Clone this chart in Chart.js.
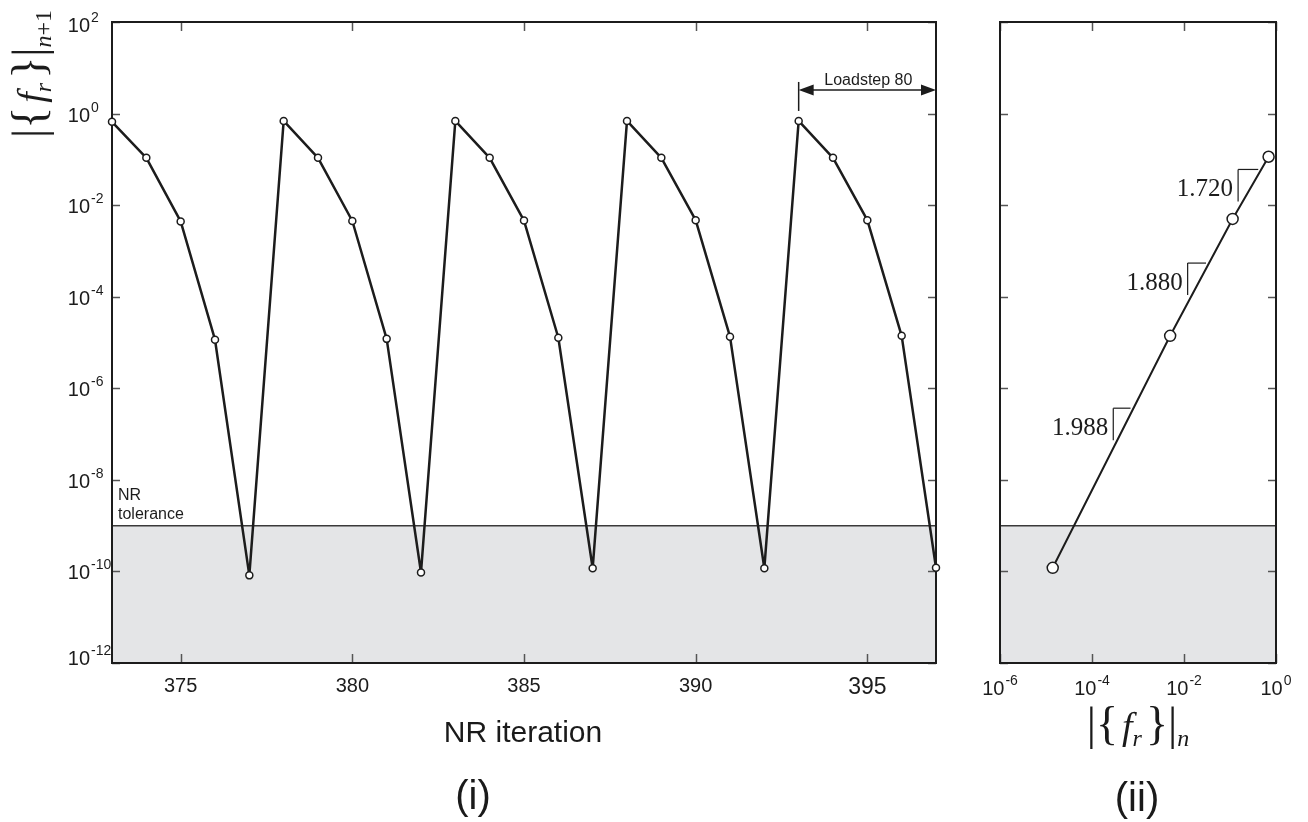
<!DOCTYPE html>
<html>
<head>
<meta charset="utf-8">
<script src="https://cdn.jsdelivr.net/npm/chart.js@4.4.0/dist/chart.umd.min.js"></script>
<style>
  html, body { margin: 0; padding: 0; background: #fff; }
  #wrap { position: relative; width: 1308px; height: 822px; overflow: hidden; }
  canvas { position: absolute; top: 0; }
  #leftChart { left: 0; }
  #rightChart { left: 960px; }
  .lbl {
    position: absolute; white-space: nowrap; color: #1a1a1a;
    font-family: "Liberation Sans", Arial, sans-serif;
    transform: translate(-50%, -50%);
  }
  .math {
    position: absolute; white-space: nowrap; color: #1a1a1a;
    font-family: "Liberation Serif", "DejaVu Serif", serif;
    font-size: 38px; line-height: 1;
  }
  .math .d { font-size: 46px; font-style: normal; }
  .math i { font-style: italic; }
  .math sub { font-size: 24px; vertical-align: -7px; line-height: 0; }
  .math .sp { display: inline-block; width: 4px; }
</style>
</head>
<body>
<div id="wrap">
  <canvas id="leftChart" width="960" height="822"></canvas>
  <canvas id="rightChart" width="348" height="822"></canvas>

  <div class="math" id="yLabel" style="left:29px; top:74px; transform: translate(-50%,-50%) rotate(-90deg);">
    <span class="d">|{</span><span class="sp"></span><i>f</i><sub><i>r</i></sub><span class="sp"></span><span class="d">}|</span><sub><i>n</i>+1</sub>
  </div>
  <div class="math" id="xLabelRight" style="left:1138px; top:724px; transform: translate(-50%,-50%);">
    <span class="d">|{</span><span class="sp"></span><i>f</i><sub><i>r</i></sub><span class="sp"></span><span class="d">}|</span><sub><i>n</i></sub>
  </div>

  <div class="lbl" style="left:523px; top:732px; font-size:30px;">NR iteration</div>
  <div class="lbl" style="left:473px; top:795px; font-size:40px;">(i)</div>
  <div class="lbl" style="left:1137px; top:797px; font-size:40px;">(ii)</div>
</div>

<script>
// Panel (i): residual per NR iteration
const iterations = [373, 374, 375, 376, 377, 378, 379, 380, 381, 382, 383, 384, 385,
                    386, 387, 388, 389, 390, 391, 392, 393, 394, 395, 396, 397];
const residuals = [0.66, 0.108, 4.4e-3, 1.15e-5, 8.2e-11,
                   0.69, 0.108, 4.5e-3, 1.2e-5, 9.5e-11,
                   0.69, 0.108, 4.6e-3, 1.27e-5, 1.17e-10,
                   0.69, 0.108, 4.7e-3, 1.34e-5, 1.17e-10,
                   0.69, 0.108, 4.7e-3, 1.4e-5, 1.2e-10];
const iterationTicks = [375, 380, 385, 390, 395];
const decadeTicks = [1e-12, 1e-10, 1e-8, 1e-6, 1e-4, 1e-2, 1, 1e2];
const tolerance = 1e-9;
const loadstepFrom = 393;
const loadstepTo = 397;
const loadstepText = 'Loadstep 80';

// Panel (ii): residual n+1 against residual n (loadstep 80)
const residualN = [1.4e-5, 5.0e-3, 0.114, 0.69];
const residualN1 = [1.2e-10, 1.4e-5, 5.0e-3, 0.114];
const rateLabels = ['1.988', '1.880', '1.720'];
const rateAnchorX = [2.9e-4, 1.2e-2, 0.15];
const residualNTicks = [1e-6, 1e-4, 1e-2, 1];

const INK = '#1c1c1c';
const TICK_FONT = '"Liberation Sans", Arial, sans-serif';

function line(ctx, x1, y1, x2, y2) {
  ctx.beginPath();
  ctx.moveTo(x1, y1);
  ctx.lineTo(x2, y2);
  ctx.stroke();
}

function exponentOf(v) {
  return String(Math.round(Math.log10(v)));
}

/**
 * Draw "10" with a raised exponent. align: 'right' puts the end of "10" at x,
 * 'center' centres the whole label on x.
 */
function drawPower(ctx, v, x, base, align) {
  const exp = exponentOf(v);
  ctx.font = '20px ' + TICK_FONT;
  const w10 = ctx.measureText('10').width;
  ctx.font = '14px ' + TICK_FONT;
  const wExp = ctx.measureText(exp).width;
  const start = align === 'center' ? x - (w10 + wExp + 1) / 2 : x - w10;
  ctx.textAlign = 'left';
  ctx.textBaseline = 'alphabetic';
  ctx.font = '20px ' + TICK_FONT;
  ctx.fillText('10', start, base);
  ctx.font = '14px ' + TICK_FONT;
  ctx.fillText(exp, start + w10 + 1, base - 10);
}

// Shared: grey converged zone, tolerance line, inward ticks, box
const framePlugin = {
  id: 'frame',
  beforeDatasetsDraw(chart) {
    const { ctx, chartArea: a, scales: { x, y } } = chart;
    const tolY = y.getPixelForValue(tolerance);
    ctx.save();
    ctx.fillStyle = '#e4e5e7';
    ctx.fillRect(a.left, tolY, a.right - a.left, a.bottom - tolY);
    ctx.strokeStyle = '#3a3a3a';
    ctx.lineWidth = 1.5;
    line(ctx, a.left, tolY, a.right, tolY);

    ctx.strokeStyle = '#555';
    ctx.lineWidth = 1.5;
    x.ticks.forEach(t => {
      const px = Math.round(x.getPixelForValue(t.value)) + 0.5;
      line(ctx, px, a.bottom, px, a.bottom - 9);
      line(ctx, px, a.top, px, a.top + 9);
    });
    y.ticks.forEach(t => {
      const py = Math.round(y.getPixelForValue(t.value)) + 0.5;
      line(ctx, a.left, py, a.left + 8, py);
      line(ctx, a.right, py, a.right - 8, py);
    });

    ctx.strokeStyle = INK;
    ctx.lineWidth = 2;
    ctx.strokeRect(a.left, a.top, a.right - a.left, a.bottom - a.top);
    ctx.restore();
  }
};

const leftLabels = {
  id: 'leftLabels',
  afterDraw(chart) {
    const { ctx, chartArea: a, scales: { x, y } } = chart;
    ctx.save();
    ctx.fillStyle = INK;

    // y tick labels
    y.ticks.forEach((t, i) => {
      const py = y.getPixelForValue(t.value);
      let off = 8;
      if (i === 0) off = 2;
      if (i === y.ticks.length - 1) off = 10;
      drawPower(ctx, t.value, a.left - 22, py + off, 'right');
    });

    // x tick labels
    ctx.textAlign = 'center';
    ctx.textBaseline = 'alphabetic';
    x.ticks.forEach(t => {
      const big = t.value === 395;
      ctx.font = (big ? '23px ' : '20px ') + TICK_FONT;
      ctx.fillText(String(t.value), x.getPixelForValue(t.value), a.bottom + (big ? 31 : 29));
    });

    // NR tolerance note
    const tolY = y.getPixelForValue(tolerance);
    ctx.textAlign = 'left';
    ctx.font = '16px ' + TICK_FONT;
    ctx.fillText('NR', a.left + 6, tolY - 26);
    ctx.fillText('tolerance', a.left + 6, tolY - 7);

    // Loadstep span
    const i0 = iterations.indexOf(loadstepFrom);
    const pY = y.getPixelForValue(residuals[i0]);
    const x0 = x.getPixelForValue(loadstepFrom);
    const x1 = x.getPixelForValue(loadstepTo);
    const arrowY = pY - 31;
    ctx.strokeStyle = INK;
    ctx.lineWidth = 1.5;
    line(ctx, x0, pY - 10, x0, pY - 39);
    line(ctx, x0 + 12, arrowY, x1 - 12, arrowY);
    ctx.beginPath();
    ctx.moveTo(x0, arrowY);
    ctx.lineTo(x0 + 15, arrowY - 5.5);
    ctx.lineTo(x0 + 15, arrowY + 5.5);
    ctx.closePath();
    ctx.moveTo(x1, arrowY);
    ctx.lineTo(x1 - 15, arrowY - 5.5);
    ctx.lineTo(x1 - 15, arrowY + 5.5);
    ctx.closePath();
    ctx.fill();
    ctx.textAlign = 'center';
    ctx.font = '16px ' + TICK_FONT;
    ctx.fillText(loadstepText, (x0 + x1) / 2 + 1, pY - 36);
    ctx.restore();
  }
};

const rightLabels = {
  id: 'rightLabels',
  afterDraw(chart) {
    const { ctx, chartArea: a, scales: { x, y } } = chart;
    ctx.save();
    ctx.fillStyle = INK;
    x.ticks.forEach(t => {
      drawPower(ctx, t.value, x.getPixelForValue(t.value), a.bottom + 32, 'center');
    });

    // convergence-rate triangles on each segment
    ctx.strokeStyle = INK;
    ctx.lineWidth = 1.2;
    rateLabels.forEach((label, k) => {
      const ax = x.getPixelForValue(residualN[k]);
      const ay = y.getPixelForValue(residualN1[k]);
      const bx = x.getPixelForValue(residualN[k + 1]);
      const by = y.getPixelForValue(residualN1[k + 1]);
      const slope = (by - ay) / (bx - ax);
      const xv = x.getPixelForValue(rateAnchorX[k]);
      const qy = ay + slope * (xv - ax);
      const bottom = qy - 8;
      const top = bottom - 32;
      const xh = ax + (top - ay) / slope - 3;
      line(ctx, xv, bottom, xv, top);
      line(ctx, xv, top, xh, top);
      ctx.font = '25px "Liberation Serif", "DejaVu Serif", serif';
      ctx.textAlign = 'right';
      ctx.textBaseline = 'alphabetic';
      ctx.fillText(label, xv - 5, bottom - 5);
    });
    ctx.restore();
  }
};

function fixedTicks(values) {
  return scale => { scale.ticks = values.map(v => ({ value: v })); };
}

function hiddenAxis(extra) {
  return Object.assign({
    ticks: { display: false },
    grid: { display: false },
    border: { display: false }
  }, extra);
}

new Chart(document.getElementById('leftChart'), {
  type: 'line',
  data: {
    datasets: [{
      data: iterations.map((it, i) => ({ x: it, y: residuals[i] })),
      borderColor: INK,
      borderWidth: 2.5,
      borderJoinStyle: 'round',
      pointRadius: 3.5,
      pointBorderWidth: 1.5,
      pointBackgroundColor: '#fff',
      pointBorderColor: INK,
      tension: 0,
      clip: false
    }]
  },
  options: {
    responsive: false,
    animation: false,
    layout: { padding: { top: 22, right: 24, left: 0, bottom: 0 } },
    plugins: { legend: { display: false }, tooltip: { enabled: false } },
    scales: {
      x: hiddenAxis({
        type: 'linear', min: 373, max: 397,
        afterBuildTicks: fixedTicks(iterationTicks),
        afterFit: s => { s.height = 159; }
      }),
      y: hiddenAxis({
        type: 'logarithmic', min: 1e-12, max: 1e2,
        afterBuildTicks: fixedTicks(decadeTicks),
        afterFit: s => { s.width = 112; }
      })
    }
  },
  plugins: [framePlugin, leftLabels]
});

new Chart(document.getElementById('rightChart'), {
  type: 'line',
  data: {
    datasets: [{
      data: residualN.map((v, i) => ({ x: v, y: residualN1[i] })),
      borderColor: INK,
      borderWidth: 2,
      pointRadius: 5.5,
      pointBorderWidth: 1.5,
      pointBackgroundColor: '#fff',
      pointBorderColor: INK,
      tension: 0,
      clip: false
    }]
  },
  options: {
    responsive: false,
    animation: false,
    layout: { padding: { top: 22, right: 32, left: 0, bottom: 0 } },
    plugins: { legend: { display: false }, tooltip: { enabled: false } },
    scales: {
      x: hiddenAxis({
        type: 'logarithmic', min: 1e-6, max: 1,
        afterBuildTicks: fixedTicks(residualNTicks),
        afterFit: s => { s.height = 159; }
      }),
      y: hiddenAxis({
        type: 'logarithmic', min: 1e-12, max: 1e2,
        afterBuildTicks: fixedTicks(decadeTicks),
        afterFit: s => { s.width = 40; }
      })
    }
  },
  plugins: [framePlugin, rightLabels]
});
</script>
</body>
</html>
